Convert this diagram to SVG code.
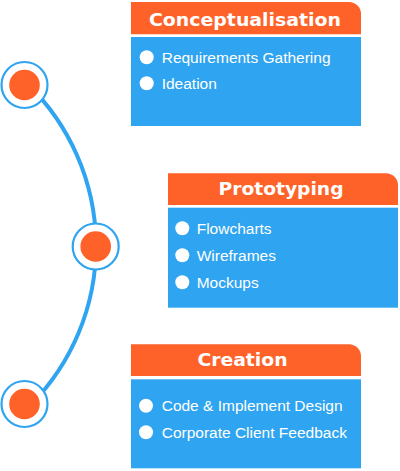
<svg xmlns="http://www.w3.org/2000/svg" width="400" height="471" viewBox="0 0 400 471">
<style>
.hdr{fill:#FF6229}
.body{fill:#2FA4F0}
.ttl{font-family:"DejaVu Sans","Open Sans",sans-serif;font-weight:700;font-size:18px;fill:#FFFFFF;text-anchor:middle}
.itm{font-family:"Liberation Sans",Arial,sans-serif;font-size:15.5px;fill:#FFFFFF}
.dot{fill:#FFFFFF}
.ring{fill:#FFFFFF;stroke:#2FA4F0;stroke-width:2.2}
.core{fill:#FF6229}
.conn{fill:none;stroke:#2FA4F0;stroke-width:4}
</style>
<rect width="400" height="471" fill="#FFFFFF"/>
<g id="connectors">
<path class="conn" d="M 28.6 85 A 226 226 0 0 1 31.6 404"/>
</g>
<g id="marker1">
<circle class="ring" cx="24.5" cy="85" r="23"/>
<circle class="core" cx="24.5" cy="85" r="15.3"/>
</g>
<g id="marker2">
<circle class="ring" cx="95.7" cy="246.5" r="23"/>
<circle class="core" cx="95.7" cy="246.5" r="15.3"/>
</g>
<g id="marker3">
<circle class="ring" cx="24.5" cy="404" r="23"/>
<circle class="core" cx="24.5" cy="404" r="15.3"/>
</g>
<g id="conceptualisation">
<path class="hdr" d="M131 2 H349 A12 12 0 0 1 361 14 V34.3 H131 Z"/>
<rect class="body" x="131" y="37" width="230" height="89"/>
<text class="ttl" x="245" y="26" textLength="192" lengthAdjust="spacingAndGlyphs">Conceptualisation</text>
<circle class="dot" cx="146.7" cy="57.3" r="7"/>
<text class="itm" x="161.7" y="63">Requirements Gathering</text>
<circle class="dot" cx="146.7" cy="83.3" r="7"/>
<text class="itm" x="161.7" y="89">Ideation</text>
</g>
<g id="prototyping">
<path class="hdr" d="M168 173.3 H386 A12 12 0 0 1 398 185.3 V205 H168 Z"/>
<rect class="body" x="168" y="207.7" width="230" height="100"/>
<text class="ttl" x="281" y="195" textLength="125" lengthAdjust="spacingAndGlyphs">Prototyping</text>
<circle class="dot" cx="182.3" cy="228.3" r="7"/>
<text class="itm" x="196.7" y="233.8">Flowcharts</text>
<circle class="dot" cx="182.3" cy="255.3" r="7"/>
<text class="itm" x="196.7" y="260.8">Wireframes</text>
<circle class="dot" cx="182.3" cy="282.3" r="7"/>
<text class="itm" x="196.7" y="287.8">Mockups</text>
</g>
<g id="creation">
<path class="hdr" d="M131 344.3 H349 A12 12 0 0 1 361 356.3 V376 H131 Z"/>
<rect class="body" x="131" y="379.3" width="230" height="89"/>
<text class="ttl" x="242.5" y="366" textLength="90" lengthAdjust="spacingAndGlyphs">Creation</text>
<circle class="dot" cx="146" cy="405.7" r="7"/>
<text class="itm" x="161.7" y="411.2">Code &amp; Implement Design</text>
<circle class="dot" cx="146" cy="432.3" r="7"/>
<text class="itm" x="161.7" y="437.8">Corporate Client Feedback</text>
</g>
</svg>
